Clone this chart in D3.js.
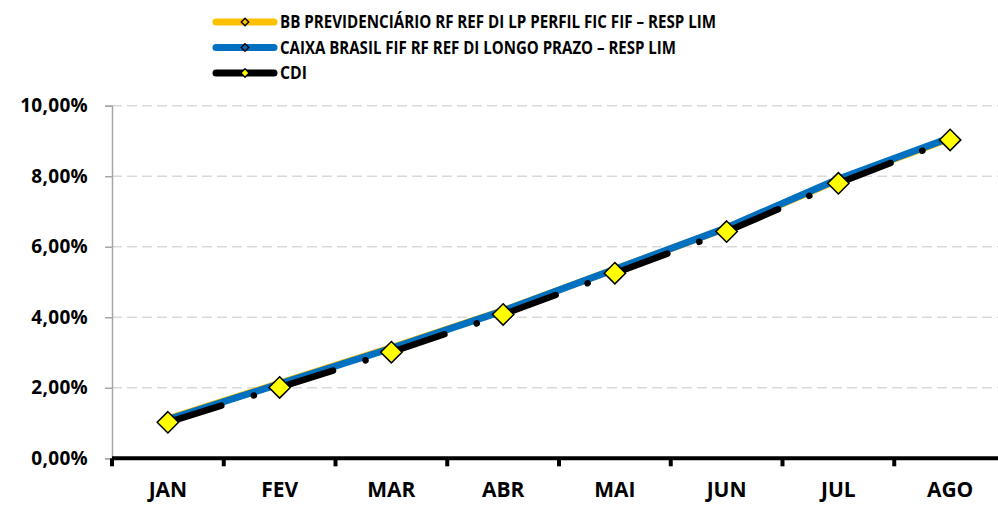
<!DOCTYPE html>
<html>
<head>
<meta charset="utf-8">
<script src="https://cdn.jsdelivr.net/npm/d3@7"></script>
<style>
  body { margin: 0; background: #fff; }
  svg { display: block; font-family: 'Open Sans', sans-serif; font-weight: bold; }
</style>
</head>
<body>
<div id="main"></div>
<script>
const months = ['JAN', 'FEV', 'MAR', 'ABR', 'MAI', 'JUN', 'JUL', 'AGO'];
const bbValues = [1.12, 2.13, 3.14, 4.19, 5.36, 6.53, 7.90, 9.07];
const caixaValues = [1.10, 2.11, 3.12, 4.18, 5.36, 6.54, 7.92, 9.09];
const cdiValues = [1.02, 2.01, 3.01, 4.08, 5.25, 6.43, 7.80, 9.03];
const yTicks = [0, 2, 4, 6, 8, 10];
const seriesNames = [
  'BB PREVIDENCIÁRIO RF REF DI LP PERFIL FIC FIF – RESP LIM',
  'CAIXA BRASIL FIF RF REF DI LONGO PRAZO  – RESP LIM',
  'CDI'
];
const chartTitle = 'Rentabilidade Acumulada';

function main() {
  const width = 998;
  const height = 506;
  const left = 112;
  const right = 1006;
  const top = 105.7;
  const bottom = 458.3;

  const svg = d3.select('#main')
    .append('svg')
    .attr('width', width)
    .attr('height', height);

  const xScale = d3.scaleBand()
    .domain(months)
    .range([left, right])
    .padding(0);
  const cx = m => xScale(m) + xScale.bandwidth() / 2;

  const yScale = d3.scaleLinear()
    .domain([0, 10])
    .range([bottom, top]);

  // gridlines
  svg.append('g')
    .selectAll('line')
    .data(yTicks.filter(t => t > 0))
    .enter()
    .append('line')
    .attr('x1', left)
    .attr('x2', width)
    .attr('y1', d => yScale(d))
    .attr('y2', d => yScale(d))
    .attr('stroke', '#d9d9d9')
    .attr('stroke-width', 1.5)
    .attr('stroke-dasharray', '10,5');

  // y axis
  const yAxis = d3.axisLeft(yScale)
    .tickValues(yTicks)
    .tickFormat(d => `${d.toFixed(2).replace('.', ',')}%`)
    .tickSize(7)
    .tickPadding(17);

  const gy = svg.append('g')
    .attr('transform', `translate(${left}, 0)`)
    .call(yAxis);
  gy.select('.domain').attr('stroke', '#a6a6a6').attr('stroke-width', 1.5);
  gy.selectAll('.tick line').attr('stroke', '#a6a6a6').attr('stroke-width', 1.5);
  gy.selectAll('.tick text')
    .attr('fill', '#000')
    .style('font-size', '19px')
    .style('font-weight', 'bold')
    .style('font-family', "'Open Sans', sans-serif")
    .style('letter-spacing', '0.3px');

  // x axis
  const xAxis = d3.axisBottom(xScale)
    .tickSize(0)
    .tickPadding(24);
  const gx = svg.append('g')
    .attr('transform', `translate(0, ${bottom})`)
    .call(xAxis);
  gx.select('.domain').remove();
  gx.selectAll('.tick text')
    .attr('fill', '#000')
    .style('font-size', '21px')
    .style('font-weight', 'bold')
    .style('font-family', "'Open Sans', sans-serif");

  svg.append('line')
    .attr('x1', left)
    .attr('x2', width)
    .attr('y1', bottom)
    .attr('y2', bottom)
    .attr('stroke', '#000')
    .attr('stroke-width', 4);

  svg.append('g')
    .selectAll('line')
    .data(months.concat(['end']))
    .enter()
    .append('line')
    .attr('x1', (d, i) => left + i * xScale.bandwidth())
    .attr('x2', (d, i) => left + i * xScale.bandwidth())
    .attr('y1', bottom)
    .attr('y2', bottom + 8)
    .attr('stroke', '#000')
    .attr('stroke-width', 4);

  const line = d3.line()
    .x(d => cx(d.m))
    .y(d => yScale(d.v));

  const toPoints = vals => vals.map((v, i) => ({ m: months[i], v }));

  svg.append('path')
    .datum(toPoints(bbValues))
    .attr('d', line)
    .attr('fill', 'none')
    .attr('stroke', '#ffc000')
    .attr('stroke-width', 7)
    .attr('stroke-linejoin', 'round');

  svg.append('path')
    .datum(toPoints(caixaValues))
    .attr('d', line)
    .attr('fill', 'none')
    .attr('stroke', '#0070c0')
    .attr('stroke-width', 7)
    .attr('stroke-linejoin', 'round');

  // CDI: long dash dot, pattern restarts at each point
  const cdiPts = toPoints(cdiValues);
  const segs = d3.pairs(cdiPts);
  svg.append('g')
    .selectAll('path')
    .data(segs)
    .enter()
    .append('path')
    .attr('d', d => line(d))
    .attr('fill', 'none')
    .attr('stroke', '#000')
    .attr('stroke-width', 6.5)
    .attr('stroke-linecap', 'round')
    .attr('stroke-dasharray', '56,34,0.1,40');

  const diamond = d3.symbol().type(d3.symbolDiamond2);

  svg.append('g')
    .selectAll('path')
    .data(cdiPts)
    .enter()
    .append('path')
    .attr('transform', d => `translate(${cx(d.m)}, ${yScale(d.v)})`)
    .attr('d', diamond.size(290)())
    .attr('fill', '#ffff00')
    .attr('stroke', '#000')
    .attr('stroke-width', 1.5);

  // legend
  const legendColors = ['#ffc000', '#0070c0', '#000'];
  const markerFill = ['#ffc000', '#0070c0', '#ffff00'];
  const legendWidths = [436, 396, 27];
  const legend = svg.append('g')
    .selectAll('g')
    .data(seriesNames)
    .enter()
    .append('g')
    .attr('transform', (d, i) => `translate(0, ${22 + i * 25.5})`);

  legend.append('line')
    .attr('x1', 216)
    .attr('x2', 274)
    .attr('stroke', (d, i) => legendColors[i])
    .attr('stroke-width', 7)
    .attr('stroke-linecap', 'round');

  legend.append('path')
    .attr('transform', 'translate(245, 0)')
    .attr('d', (d, i) => diamond.size(i === 2 ? 45 : 35)())
    .attr('fill', (d, i) => markerFill[i])
    .attr('stroke', '#000')
    .attr('stroke-width', 1.4);

  legend.append('text')
    .attr('x', 280)
    .attr('y', 6)
    .attr('textLength', (d, i) => legendWidths[i])
    .attr('lengthAdjust', 'spacingAndGlyphs')
    .style('font-size', '17px')
    .text(d => d);

  // title, cut off above the picture
  svg.append('text')
    .attr('x', 523)
    .attr('y', -4)
    .attr('text-anchor', 'middle')
    .attr('textLength', 293)
    .attr('lengthAdjust', 'spacingAndGlyphs')
    .style('font-size', '18px')
    .text(chartTitle);
}

document.addEventListener('DOMContentLoaded', main);
</script>
</body>
</html>
